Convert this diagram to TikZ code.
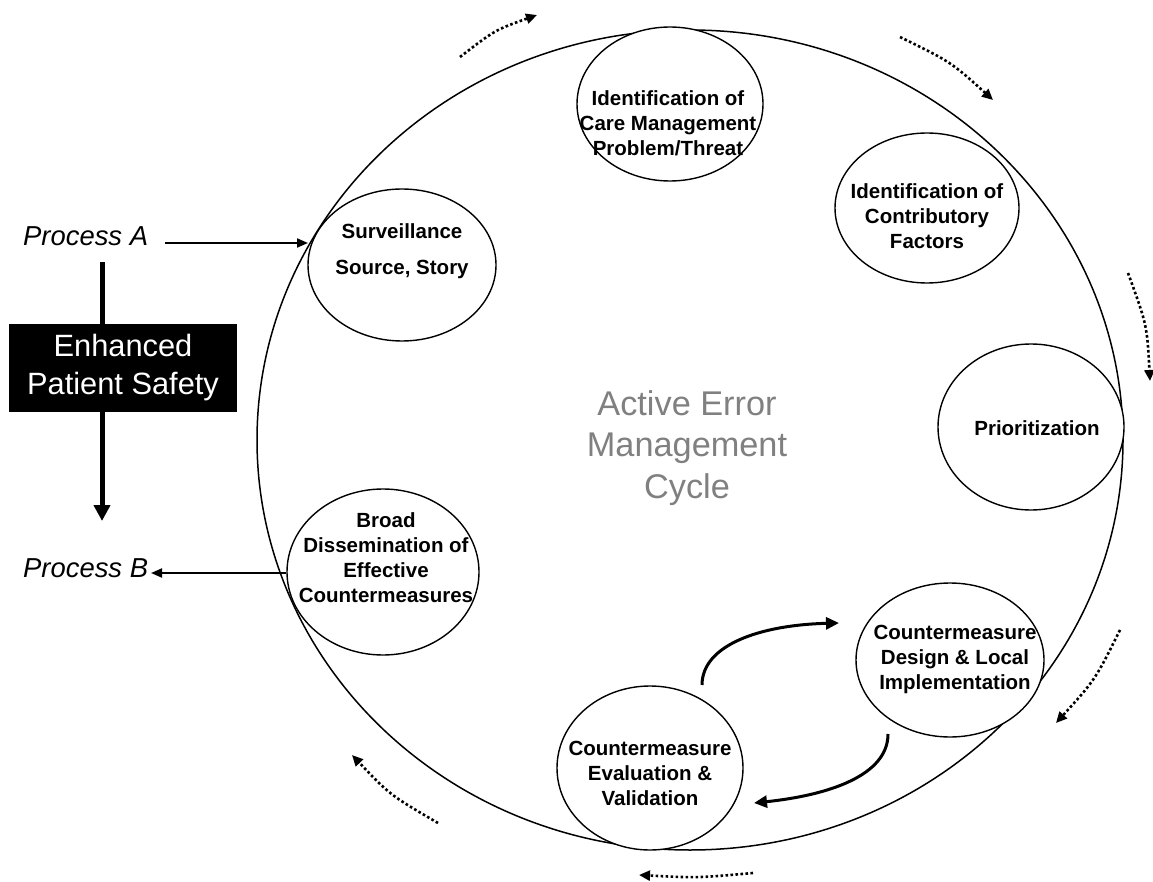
\documentclass[tikz,border=0pt]{standalone}
\usepackage{fontspec}
\setmainfont{Liberation Sans}
\usetikzlibrary{shapes.geometric,arrows.meta}
\begin{document}
\begin{tikzpicture}[x=1pt,y=-1pt,
  ell/.style={draw, ellipse, line width=1.4pt, inner sep=0pt},
  ctext/.style={font=\fontsize{20.5}{25}\selectfont\bfseries, align=center, inner sep=0pt},
  proc/.style={font=\fontsize{27.4}{32}\selectfont\itshape, inner sep=0pt, anchor=base west},
  dotarrow/.style={line width=2.6pt, dash pattern=on 2.6pt off 2.4pt, -{Triangle[length=11pt,width=10pt]}},
  bigarrow/.style={line width=3pt, -{Triangle[length=13pt,width=12pt]}},
  parrow/.style={line width=2pt, -{Triangle[length=11pt,width=9pt]}},
  varrow/.style={line width=5pt, -{Triangle[length=16pt,width=16pt]}},
]
\useasboundingbox (0,0) rectangle (1153,882);
% big cycle ellipse
\node[ell, line width=1.5pt, minimum width=866pt, minimum height=820pt] (big) at (690,440) {};
% stage circles
\node[ell, fill=white, minimum width=186pt, minimum height=154pt] (c1) at (670,104) {};
\node[ctext] (t1) at (668,123) {Identification of\\Care Management\\Problem/Threat};
\node[ell, fill=white, minimum width=184pt, minimum height=150pt] (c2) at (927,208) {};
\node[ctext] (t2) at (927,216) {Identification of\\Contributory\\Factors};
\node[ell, fill=white, minimum width=186pt, minimum height=166pt] (c3) at (1031,427) {};
\node[ctext] (t3) at (1037,428) {Prioritization};
\node[ell, fill=white, minimum width=188pt, minimum height=154pt] (c4) at (950,660) {};
\node[ctext] (t4) at (955,659) {Countermeasure\\Design \& Local\\Implementation};
\node[ell, fill=white, minimum width=186pt, minimum height=164pt] (c5) at (650,768) {};
\node[ctext] (t5) at (650,773) {Countermeasure\\Evaluation \&\\Validation};
\node[ell, fill=white, minimum width=192pt, minimum height=166pt] (c6) at (383,572) {};
\node[ctext] (t6) at (386,558) {Broad\\Dissemination of\\Effective\\Countermeasures};
\node[ell, fill=white, minimum width=188pt, minimum height=152pt] (c7) at (402,265) {};
\node[ctext, font=\fontsize{20.5}{36}\selectfont\bfseries] (t7) at (402,251) {Surveillance\\Source, Story};
% centre label
\node[font=\fontsize{34.3}{41.5}\selectfont, text={rgb,255:red,128;green,128;blue,128}, align=center, inner sep=0pt] (ctr) at (687,448) {Active Error\\Management\\Cycle};
% processes
\node[proc] (pA) at (23,246) {Process A};
\node[proc] (pB) at (23,577) {Process B};
\coordinate (aS) at (165,243);
\coordinate (aE) at (308,243);
\draw[parrow] (aS) -- (aE);
\coordinate (bE) at (151,573);
\draw[parrow] (c6.west |- bE) -- (bE);
% enhanced patient safety
\coordinate (vT) at (102,262);
\coordinate (vB) at (102,521);
\draw[varrow] (vT) -- (vB);
\node[fill=black, text=white, minimum width=228pt, minimum height=87pt, inner sep=0pt, align=center,
  font=\fontsize{30.8}{38}\selectfont] (eps) at (123,368) {Enhanced\\Patient Safety};
% inner solid arrows
\coordinate (g0) at (702,685);
\coordinate (g3) at (839,623);
\draw[bigarrow] (g0) .. controls (702,645) and (760,625) .. (g3);
\coordinate (h0) at (888,734);
\coordinate (h3) at (754,803);
\draw[bigarrow] (h0) .. controls (888,775) and (830,795) .. (h3);
% dotted cycle arrows
\coordinate (a0) at (460,57);  \coordinate (a1) at (537,15);
\draw[dotarrow] (a0) .. controls (495,30) .. (a1);
\coordinate (b0) at (900,37);  \coordinate (b1) at (993,100);
\draw[dotarrow] (b0) .. controls (951,62) .. (b1);
\coordinate (d0) at (1128,273); \coordinate (d1) at (1150,381);
\draw[dotarrow] (d0) .. controls (1147,325) .. (d1);
\coordinate (e0) at (1120,630); \coordinate (e1) at (1056,723);
\draw[dotarrow] (e0) .. controls (1095,680) .. (e1);
\coordinate (f0) at (753,873); \coordinate (f1) at (639,875);
\draw[dotarrow] (f0) .. controls (697,878) .. (f1);
\coordinate (k0) at (438,823); \coordinate (k1) at (352,755);
\draw[dotarrow] (k0) .. controls (390,795) .. (k1);
\end{tikzpicture}
\end{document}
